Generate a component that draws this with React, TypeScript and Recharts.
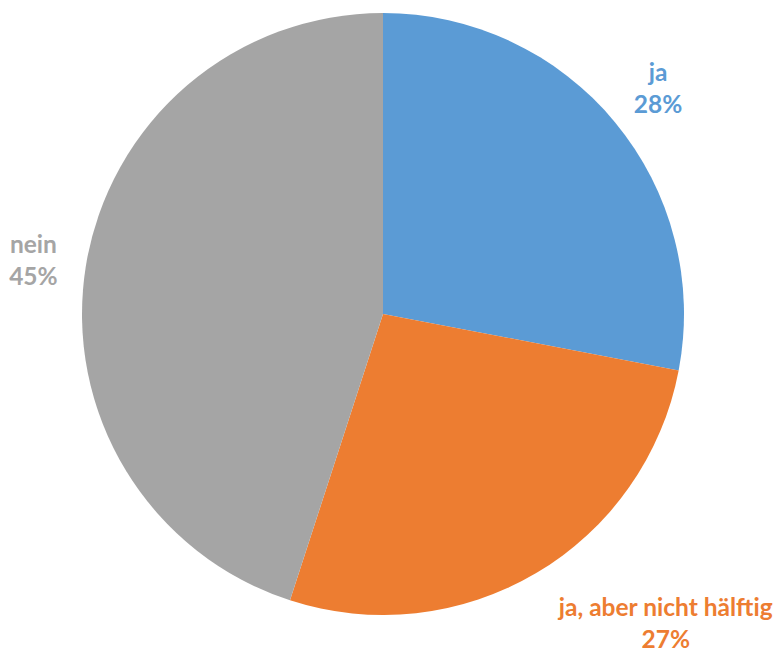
import { PieChart, Pie, Cell } from 'recharts'

const answers = ['ja', 'ja, aber nicht hälftig', 'nein']
const shares = [28, 27, 45]
const colors = ['#5B9BD5', '#ED7D31', '#A5A5A5']

const data = answers.map((name, i) => ({ name, value: shares[i] }))

// Excel moved some labels sideways; keep those tweaks here
const labelNudge: Record<string, number> = { 'ja, aber nicht hälftig': 101, nein: 3 }

const RAD = Math.PI / 180

function renderLabel(props: any) {
  const { cx, cy, midAngle, outerRadius, index, name, value } = props
  const r = outerRadius + 56
  const x = cx + r * Math.cos(-midAngle * RAD) + (labelNudge[name] ?? 0)
  const y = cy + r * Math.sin(-midAngle * RAD)
  return (
    <text
      x={x}
      y={y}
      textAnchor="middle"
      fill={colors[index]}
      fontFamily="Lato, 'Open Sans', sans-serif"
      fontWeight={700}
      fontSize={24.5}
    >
      <tspan x={x} y={y - 15} dominantBaseline="central">{name}</tspan>
      <tspan x={x} y={y + 17} dominantBaseline="central">{`${value}%`}</tspan>
    </text>
  )
}

export default function App() {
  return (
    <div style={{ position: 'absolute', left: 0, top: 0, width: 781, height: 652, background: '#fff' }}>
      <style>{`.recharts-pie-sectors { filter: drop-shadow(0 0 4px rgba(0,0,0,0.3)); }`}</style>
      <PieChart width={781} height={652} margin={{ top: 0, right: 0, bottom: 0, left: 0 }}>
        <Pie
          data={data}
          dataKey="value"
          nameKey="name"
          cx={383}
          cy={314}
          outerRadius={301}
          startAngle={90}
          endAngle={-270}
          stroke="none"
          label={renderLabel}
          labelLine={false}
          isAnimationActive={false}
        >
          {data.map((d, i) => (
            <Cell key={d.name} fill={colors[i]} />
          ))}
        </Pie>
      </PieChart>
    </div>
  )
}
